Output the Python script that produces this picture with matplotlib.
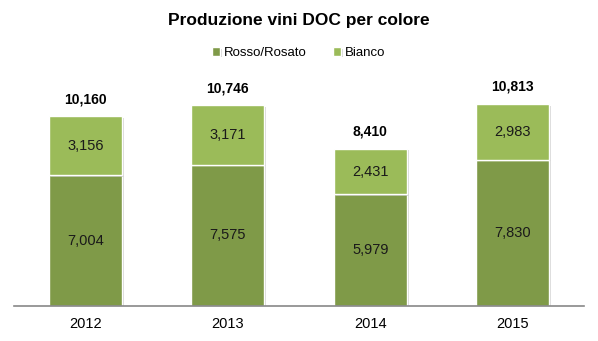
import matplotlib
matplotlib.use("Agg")
import matplotlib.pyplot as plt
import matplotlib.patheffects as pe

plt.rcParams['font.family'] = ['Liberation Sans', 'DejaVu Sans']

years = ['2012', '2013', '2014', '2015']
rosso = [7004, 7575, 5979, 7830]
bianco = [3156, 3171, 2431, 2983]
totals = [10160, 10746, 8410, 10813]

dark = '#7F9A48'
light = '#9BBB59'

fig = plt.figure(figsize=(5.98, 3.41), dpi=100)
ax = fig.add_axes([14/598, 1 - 306/341, 570/598, 224/341])

x = list(range(len(years)))
w = 0.51
shadow = [pe.SimplePatchShadow(offset=(1.5, -1), shadow_rgbFace='#BBBBBB', alpha=0.6), pe.Normal()]
b1 = ax.bar(x, rosso, width=w, color=dark, edgecolor='white', linewidth=1.0,
            label='Rosso/Rosato', path_effects=shadow, zorder=2)
b2 = ax.bar(x, bianco, width=w, bottom=rosso, color=light, edgecolor='white', linewidth=1.0,
            label='Bianco', path_effects=shadow, zorder=2)

for i in x:
    ax.text(i, rosso[i] / 2, f"{rosso[i]:,}", ha='center', va='center', fontsize=10.5, color='#1a1a1a')
    ax.text(i, rosso[i] + bianco[i] / 2, f"{bianco[i]:,}", ha='center', va='center', fontsize=10.5, color='#1a1a1a')
    ax.text(i, totals[i] + 550, f"{totals[i]:,}", ha='center', va='bottom', fontsize=10,
            fontweight='bold', color='black')

ax.set_xlim(-0.5, len(years) - 0.5)
ax.set_ylim(0, 12000)
ax.set_xticks(x)
ax.set_xticklabels(years, fontsize=10.5)
ax.tick_params(axis='x', length=0, pad=8)
ax.set_yticks([])
for s in ['top', 'right', 'left']:
    ax.spines[s].set_visible(False)
ax.spines['bottom'].set_color('#888888')
ax.spines['bottom'].set_linewidth(1.2)

fig.text(0.5, 1 - 20/341, 'Produzione vini DOC per colore', ha='center', va='center',
         fontsize=12.5, fontweight='bold')
fig.legend(handles=[b1, b2], labels=['Rosso/Rosato', 'Bianco'], loc='center',
           bbox_to_anchor=(0.5, 1 - 53/341), ncol=2, frameon=False, fontsize=9.5,
           handlelength=0.6, handleheight=0.6, handletextpad=0.3, columnspacing=2.0)

fig.savefig('out.png', dpi=100)
